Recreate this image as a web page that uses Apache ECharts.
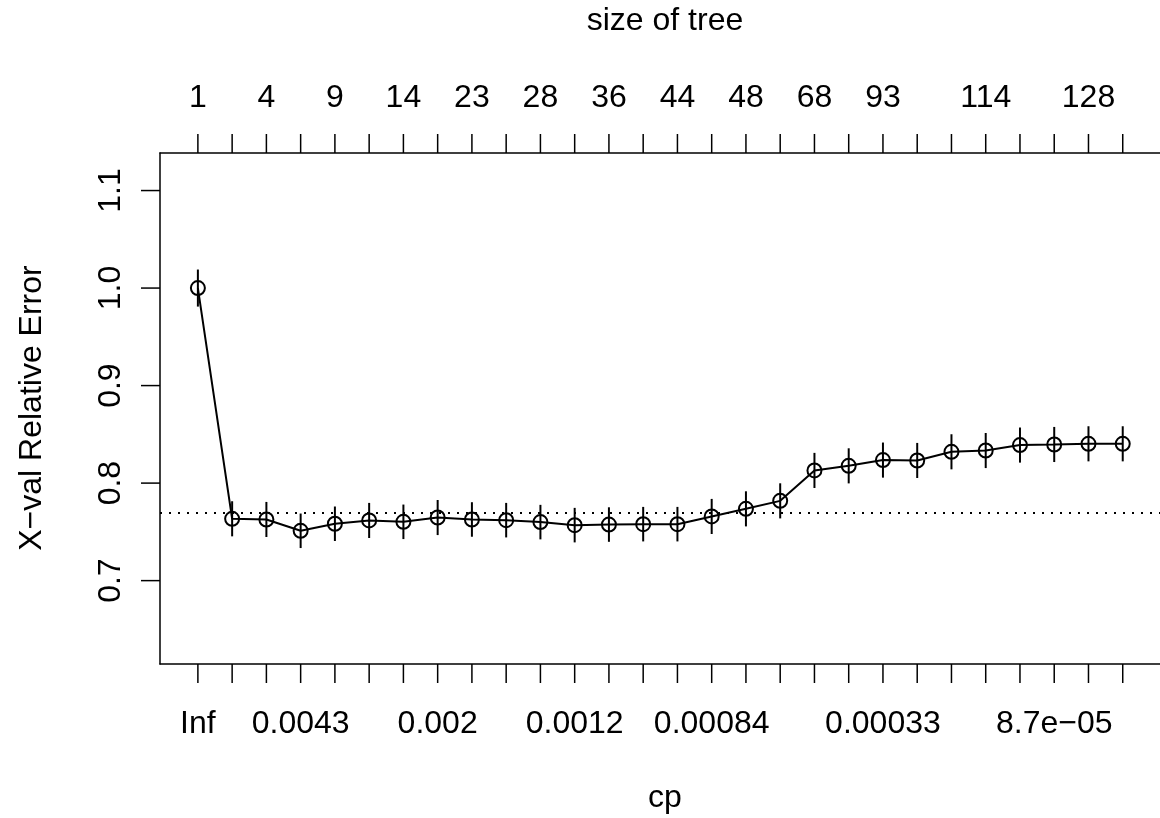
<!DOCTYPE html>
<html>
<head>
<meta charset="utf-8">
<script src="https://cdn.jsdelivr.net/npm/echarts@6/dist/echarts.min.js"></script>
<style>
html,body{margin:0;padding:0;background:#fff;}
#chart{width:1160px;height:818px;}
</style>
</head>
<body>
<div id="chart"></div>
<script>
// ---- data ----
const xerror = [1.000, 0.7634, 0.7627, 0.7511, 0.7583, 0.7617, 0.7603, 0.7647, 0.7627, 0.7620,
                0.7600, 0.7569, 0.7575, 0.7579, 0.7579, 0.7658, 0.7736, 0.7818, 0.8130, 0.8177,
                0.8236, 0.8232, 0.8321, 0.8334, 0.8390, 0.8396, 0.8403, 0.8403];
const xstd = [0.019, 0.018, 0.018, 0.0177, 0.0177, 0.018, 0.0177, 0.018, 0.0177, 0.0177,
              0.0177, 0.0177, 0.0177, 0.0177, 0.0177, 0.018, 0.018, 0.018, 0.018, 0.018,
              0.018, 0.018, 0.018, 0.018, 0.018, 0.018, 0.018, 0.018];
const seLine = [0.7675];
const cpTickPos = [1, 4, 8, 12, 16, 21, 26];
const cpTickLabels = ['Inf', '0.0043', '0.002', '0.0012', '0.00084', '0.00033', '8.7e\u221205'];
const sizeTickPos = [1, 3, 5, 7, 9, 11, 13, 15, 17, 19, 21, 24, 27];
const sizeTickLabels = ['1', '4', '9', '14', '23', '28', '36', '44', '48', '68', '93', '114', '128'];
const yTicks = [0.7, 0.8, 0.9, 1.0, 1.1];

const FONT = 'Liberation Sans';
const FS = 32;
const X_MIN = -0.106, X_MAX = 29.088;
const Y_MIN = 0.6145, Y_MAX = 1.1385;
const TICK_LEN = 19;
const allTicks = xerror.map((_, i) => i + 1);

const chart = echarts.init(document.getElementById('chart'), null, {renderer: 'canvas'});
const axisLineStyle = {color: '#000', width: 1.5};

// tick marks: [side, value]; side 0 = bottom, 1 = top, 2 = left
const tickData = []
  .concat(allTicks.map(v => [0, v]))
  .concat(allTicks.map(v => [1, v]))
  .concat(yTicks.map(v => [2, v]));

const option = {
  animation: false,
  backgroundColor: '#fff',
  grid: {left: 160, right: -11, top: 153, bottom: 154, containLabel: false},
  xAxis: [
    {
      type: 'value', position: 'bottom', min: X_MIN, max: X_MAX,
      splitLine: {show: false},
      axisLine: {show: true, onZero: false, lineStyle: axisLineStyle},
      axisTick: {show: false},
      axisLabel: {
        show: true, customValues: cpTickPos, margin: 44,
        fontFamily: FONT, fontSize: FS, color: '#000',
        formatter: v => cpTickLabels[cpTickPos.indexOf(Math.round(v))]
      }
    },
    {
      type: 'value', position: 'top', min: X_MIN, max: X_MAX,
      splitLine: {show: false},
      axisLine: {show: true, onZero: false, lineStyle: axisLineStyle},
      axisTick: {show: false},
      axisLabel: {
        show: true, customValues: sizeTickPos, margin: 39,
        fontFamily: FONT, fontSize: FS, color: '#000',
        formatter: v => sizeTickLabels[sizeTickPos.indexOf(Math.round(v))]
      }
    }
  ],
  yAxis: {
    type: 'value', min: Y_MIN, max: Y_MAX,
    splitLine: {show: false},
    axisLine: {show: true, onZero: false, lineStyle: axisLineStyle},
    axisTick: {show: false},
    axisLabel: {
      show: true, customValues: yTicks, rotate: 90, margin: 33,
      fontFamily: FONT, fontSize: FS, color: '#000',
      formatter: v => v.toFixed(1)
    }
  },
  graphic: [
    {type: 'text', x: 665, y: 21, style: {text: 'size of tree', fontFamily: FONT, fontSize: FS, fill: '#000', align: 'center', verticalAlign: 'middle'}},
    {type: 'text', x: 665, y: 798, style: {text: 'cp', fontFamily: FONT, fontSize: FS, fill: '#000', align: 'center', verticalAlign: 'middle'}},
    {type: 'text', x: 32, y: 408, rotation: Math.PI / 2, style: {text: 'X\u2212val Relative Error', fontFamily: FONT, fontSize: FS, fill: '#000', align: 'center', verticalAlign: 'middle'}}
  ],
  series: [
    {
      type: 'custom',
      xAxisIndex: 0,
      clip: false,
      silent: true,
      data: tickData,
      renderItem: function (params, api) {
        const side = api.value(0), v = api.value(1);
        let p, q;
        if (side === 0) { p = api.coord([v, Y_MIN]); q = [p[0], p[1] + TICK_LEN]; }
        else if (side === 1) { p = api.coord([v, Y_MAX]); q = [p[0], p[1] - TICK_LEN]; }
        else { p = api.coord([X_MIN, v]); q = [p[0] - TICK_LEN, p[1]]; }
        return {type: 'line', shape: {x1: p[0], y1: p[1], x2: q[0], y2: q[1]}, style: {stroke: '#000', lineWidth: 1.5}};
      },
      z: 2
    },
    {
      type: 'custom',
      xAxisIndex: 0,
      data: xerror.map((v, i) => [i + 1, v - xstd[i], v + xstd[i]]),
      renderItem: function (params, api) {
        const x = api.value(0);
        const p1 = api.coord([x, api.value(1)]);
        const p2 = api.coord([x, api.value(2)]);
        return {type: 'line', shape: {x1: p1[0], y1: p1[1], x2: p2[0], y2: p2[1]}, style: {stroke: '#000', lineWidth: 2}};
      },
      z: 3
    },
    {
      type: 'line',
      xAxisIndex: 0,
      data: xerror.map((v, i) => [i + 1, v]),
      symbol: 'circle',
      symbolSize: 14,
      showAllSymbol: true,
      itemStyle: {color: 'rgba(0,0,0,0)', borderColor: '#000', borderWidth: 2},
      lineStyle: {color: '#000', width: 2},
      z: 4,
      markLine: {
        silent: true, symbol: 'none', label: {show: false},
        lineStyle: {color: '#000', width: 2, type: [2, 7]},
        data: seLine.map(v => ({yAxis: v}))
      }
    }
  ]
};
chart.setOption(option);
</script>
</body>
</html>
